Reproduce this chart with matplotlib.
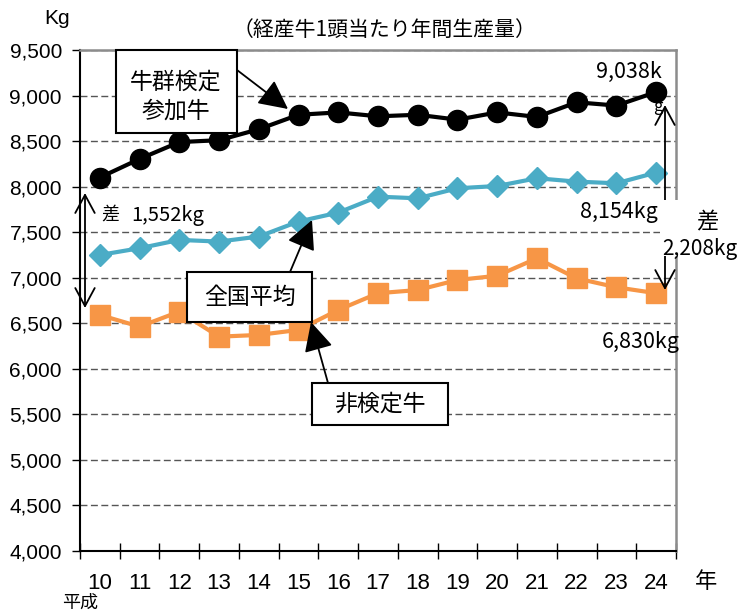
import numpy as np
import matplotlib
matplotlib.use("Agg")
import matplotlib.pyplot as plt
from matplotlib.patches import Rectangle

# 平成10〜24年 経産牛1頭当たり年間生産量 (kg)
years = ["10", "11", "12", "13", "14", "15", "16", "17", "18", "19", "20", "21", "22", "23", "24"]
kentei = [8100, 8304, 8489, 8510, 8630, 8789, 8815, 8772, 8789, 8735, 8815, 8765, 8926, 8890, 9038]
zenkoku = [7250, 7324, 7415, 7397, 7452, 7617, 7715, 7890, 7872, 7982, 8007, 8092, 8055, 8037, 8154]
hikentei = [6591, 6463, 6628, 6353, 6372, 6427, 6646, 6830, 6865, 6975, 7022, 7213, 6993, 6895, 6830]
yticks = [4000, 4500, 5000, 5500, 6000, 6500, 7000, 7500, 8000, 8500, 9000, 9500]

JP = ["Noto Sans CJK JP", "DejaVu Sans"]
W, H = 744, 612

def fp(px, py):
    # 画像のピクセル位置 -> figure fraction
    return (px / W, 1 - py / H)

fig = plt.figure(figsize=(W / 100, H / 100), dpi=100)
ax = fig.add_axes([80 / W, 1 - 551 / H, 596 / W, 501 / H])

x = np.arange(len(years))
ax.plot(x, hikentei, color="#F79646", lw=3, marker="s", ms=14, zorder=3)
ax.plot(x, zenkoku, color="#4BACC6", lw=3, marker="D", ms=11, zorder=3)
ax.plot(x, kentei, color="black", lw=3, marker="o", ms=14.5, zorder=3)

ax.set_xlim(-0.5, 14.5)
ax.set_ylim(4000, 9500)
ax.set_yticks(yticks)
ax.set_yticklabels([f"{v:,}" for v in yticks], fontsize=15, family="Liberation Sans")
ax.set_xticks(x)
ax.set_xticklabels(years, fontsize=16, family="Liberation Sans")
ax.set_xticks(np.arange(-0.5, 15, 1), minor=True)
ax.tick_params(axis="x", which="major", length=0, pad=16)
ax.tick_params(axis="x", which="minor", direction="inout", length=11.5, width=1)
ax.tick_params(axis="y", direction="out", length=6, width=1, pad=7)
ax.set_axisbelow(True)
ax.yaxis.grid(True, ls=(0, (5, 2.5)), color="#555555", lw=1)

for s in ["left", "bottom"]:
    ax.spines[s].set_linewidth(1.5)
    ax.spines[s].set_color("black")
for s in ["top", "right"]:
    ax.spines[s].set_linewidth(1.8)
    ax.spines[s].set_color("#8c8c8c")

# 差の矢印
ax.annotate("", xy=fp(665, 105), xytext=fp(665, 290), xycoords="figure fraction",
            arrowprops=dict(arrowstyle="<->,head_length=0.65,head_width=0.35", lw=1.3,
                            color="black", shrinkA=0, shrinkB=0, mutation_scale=20))
ax.annotate("", xy=fp(85, 193), xytext=fp(85, 308), xycoords="figure fraction",
            arrowprops=dict(arrowstyle="<->,head_length=0.65,head_width=0.35", lw=1.3,
                            color="black", shrinkA=0, shrinkB=0, mutation_scale=20))

# 吹き出しの矢印
for start, tip in [((237, 70), (288, 109)), ((290, 272), (312, 220)), ((328, 383), (311, 322))]:
    ax.annotate("", xy=fp(*tip), xytext=fp(*start), xycoords="figure fraction", zorder=5,
                arrowprops=dict(arrowstyle="-|>,head_length=0.9,head_width=0.45", lw=1.3,
                                color="black", shrinkA=0, shrinkB=0, mutation_scale=20))

# 右側の白い下地
fig.add_artist(Rectangle(fp(660, 256), 84 / W, 56 / H, transform=fig.transFigure,
                         facecolor="white", edgecolor="none", zorder=5))

# 吹き出しの箱
boxes = [(116, 50, 237, 133), (187, 272, 312, 322), (312, 383, 448, 425)]
for x0, y0, x1, y1 in boxes:
    fig.add_artist(Rectangle(fp(x0, y1), (x1 - x0) / W, (y1 - y0) / H, transform=fig.transFigure,
                             facecolor="white", edgecolor="black", lw=1.5, zorder=5))

fig.text(*fp(176, 82), "牛群検定", fontsize=16.5, family=JP, ha="center", va="center", zorder=6)
fig.text(*fp(176, 111), "参加牛", fontsize=16.5, family=JP, ha="center", va="center", zorder=6)
fig.text(*fp(250, 297), "全国平均", fontsize=16.5, family=JP, ha="center", va="center", zorder=6)
fig.text(*fp(380, 404), "非検定牛", fontsize=16.5, family=JP, ha="center", va="center", zorder=6)

# 数値ラベル
fig.text(*fp(384, 30), "（経産牛1頭当たり年間生産量）", fontsize=15, family=JP, ha="center", va="center")
fig.text(*fp(57, 18), "Kg", fontsize=15, family="Liberation Sans", ha="center", va="center")
fig.text(*fp(629, 72), "9,038k", fontsize=15.5, family=JP, ha="center", va="center", zorder=6)
fig.text(*fp(658, 106), "g", fontsize=12, family=JP, ha="center", va="center", zorder=6)
fig.text(*fp(658, 212), "8,154kg", fontsize=15.5, family=JP, ha="right", va="center", zorder=6)
fig.text(*fp(707, 222), "差", fontsize=16, family=JP, ha="center", va="center", zorder=6)
fig.text(*fp(662, 249), "2,208kg", fontsize=15, family=JP, ha="left", va="center", zorder=6)
fig.text(*fp(680, 342), "6,830kg", fontsize=15.5, family=JP, ha="right", va="center", zorder=6)
fig.text(*fp(110, 215), "差", fontsize=13, family=JP, ha="center", va="center", zorder=6)
fig.text(*fp(131, 215), "1,552kg", fontsize=14.5, family=JP, ha="left", va="center", zorder=6)

fig.text(*fp(706, 582), "年", fontsize=16, family=JP, ha="center", va="center")
fig.text(*fp(80, 603), "平成", fontsize=13, family=JP, ha="center", va="center")

fig.savefig("out.png", dpi=100)
